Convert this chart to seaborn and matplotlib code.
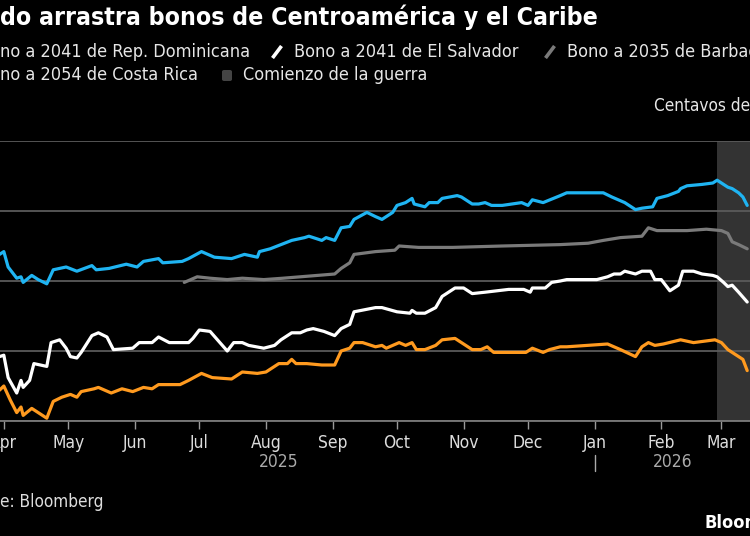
import pandas as pd
import matplotlib
matplotlib.use("Agg")
import matplotlib.pyplot as plt
import matplotlib.dates as mdates
import matplotlib.transforms as mtransforms
from matplotlib import font_manager
from matplotlib.lines import Line2D
from matplotlib.patches import FancyBboxPatch
import seaborn as sns

# --- data (cents on the dollar) ---
dom_dates = ["2025-03-30", "2025-04-01", "2025-04-03", "2025-04-07", "2025-04-09", "2025-04-10",
             "2025-04-14", "2025-04-17", "2025-04-21", "2025-04-24", "2025-04-30", "2025-05-05",
             "2025-05-12", "2025-05-14", "2025-05-20", "2025-05-28", "2025-06-02", "2025-06-05",
             "2025-06-12", "2025-06-14", "2025-06-23", "2025-06-26", "2025-07-02", "2025-07-08",
             "2025-07-16", "2025-07-22", "2025-07-28", "2025-07-29", "2025-08-03", "2025-08-13",
             "2025-08-19", "2025-08-21", "2025-08-27", "2025-08-29", "2025-09-02", "2025-09-05",
             "2025-09-09", "2025-09-11", "2025-09-17", "2025-09-21", "2025-09-24", "2025-09-29",
             "2025-10-01", "2025-10-05", "2025-10-08", "2025-10-09", "2025-10-14", "2025-10-16",
             "2025-10-20", "2025-10-22", "2025-10-29", "2025-10-31", "2025-11-05", "2025-11-08",
             "2025-11-11", "2025-11-14", "2025-11-19", "2025-11-28", "2025-12-01", "2025-12-03",
             "2025-12-08", "2025-12-16", "2025-12-19", "2026-01-05", "2026-01-09", "2026-01-15",
             "2026-01-20", "2026-01-23", "2026-01-28", "2026-01-30", "2026-02-04", "2026-02-09",
             "2026-02-10", "2026-02-13", "2026-02-20", "2026-02-25", "2026-02-27", "2026-03-01",
             "2026-03-04", "2026-03-06", "2026-03-09", "2026-03-11", "2026-03-13"]
dom_vals = [91.9, 92.1, 91.0, 90.2, 90.3, 89.9, 90.4, 90.1, 89.8, 90.8, 91.0, 90.7,
            91.1, 90.8, 90.9, 91.2, 91.0, 91.4, 91.6, 91.3, 91.4, 91.6, 92.1, 91.7,
            91.6, 91.9, 91.7, 92.1, 92.3, 92.9, 93.1, 93.2, 92.9, 93.1, 92.9, 93.8,
            93.9, 94.4, 94.9, 94.6, 94.4, 94.9, 95.4, 95.6, 95.9, 95.5, 95.3, 95.6,
            95.6, 95.9, 96.1, 96.0, 95.5, 95.5, 95.6, 95.4, 95.4, 95.6, 95.4, 95.8,
            95.6, 96.1, 96.3, 96.3, 96.0, 95.6, 95.1, 95.2, 95.3, 95.9, 96.1, 96.4,
            96.6, 96.8, 96.9, 97.0, 97.2, 97.0, 96.7, 96.6, 96.3, 96.0, 95.4]

slv_dates = ["2025-03-30", "2025-04-01", "2025-04-03", "2025-04-07", "2025-04-09", "2025-04-10",
             "2025-04-13", "2025-04-15", "2025-04-21", "2025-04-23", "2025-04-27", "2025-04-30",
             "2025-05-02", "2025-05-05", "2025-05-07", "2025-05-12", "2025-05-15", "2025-05-19",
             "2025-05-22", "2025-05-31", "2025-06-03", "2025-06-09", "2025-06-12", "2025-06-17",
             "2025-06-26", "2025-06-28", "2025-07-01", "2025-07-06", "2025-07-14", "2025-07-17",
             "2025-07-21", "2025-07-24", "2025-07-31", "2025-08-05", "2025-08-08", "2025-08-13",
             "2025-08-17", "2025-08-20", "2025-08-23", "2025-08-28", "2025-09-02", "2025-09-05",
             "2025-09-09", "2025-09-11", "2025-09-21", "2025-09-24", "2025-10-01", "2025-10-07",
             "2025-10-08", "2025-10-10", "2025-10-14", "2025-10-19", "2025-10-22", "2025-10-28",
             "2025-11-01", "2025-11-05", "2025-11-11", "2025-11-22", "2025-11-29", "2025-12-02",
             "2025-12-03", "2025-12-09", "2025-12-12", "2025-12-16", "2025-12-19", "2026-01-02",
             "2026-01-07", "2026-01-10", "2026-01-13", "2026-01-15", "2026-01-20", "2026-01-23",
             "2026-01-27", "2026-01-29", "2026-02-01", "2026-02-05", "2026-02-09", "2026-02-11",
             "2026-02-16", "2026-02-20", "2026-02-25", "2026-02-27", "2026-03-02", "2026-03-04",
             "2026-03-06", "2026-03-09", "2026-03-13"]
slv_vals = [84.6, 84.7, 83.1, 82.0, 82.9, 82.4, 82.9, 84.1, 83.9, 85.6, 85.8, 85.2,
            84.6, 84.5, 84.9, 86.1, 86.3, 86.0, 85.1, 85.2, 85.6, 85.6, 86.0, 85.6,
            85.6, 85.9, 86.5, 86.4, 85.0, 85.6, 85.6, 85.4, 85.2, 85.4, 85.8, 86.3,
            86.3, 86.5, 86.6, 86.4, 86.1, 86.6, 86.9, 87.8, 88.1, 88.1, 87.8, 87.7,
            87.9, 87.7, 87.7, 88.1, 88.9, 89.5, 89.5, 89.1, 89.2, 89.4, 89.4, 89.2,
            89.5, 89.5, 89.9, 90.0, 90.1, 90.1, 90.3, 90.5, 90.5, 90.7, 90.5, 90.7,
            90.7, 90.1, 90.1, 89.3, 89.7, 90.7, 90.7, 90.5, 90.4, 90.3, 89.9, 89.6,
            89.7, 89.2, 88.5]

brb_dates = ["2025-06-24", "2025-06-30", "2025-07-06", "2025-07-14", "2025-07-21", "2025-07-31",
             "2025-08-09", "2025-08-17", "2025-08-25", "2025-09-02", "2025-09-05", "2025-09-09",
             "2025-09-11", "2025-09-16", "2025-09-21", "2025-09-30", "2025-10-02", "2025-10-11",
             "2025-10-27", "2025-11-19", "2025-12-16", "2025-12-29", "2026-01-05", "2026-01-13",
             "2026-01-23", "2026-01-26", "2026-01-30", "2026-02-13", "2026-02-22", "2026-03-01",
             "2026-03-04", "2026-03-06", "2026-03-09", "2026-03-13"]
brb_vals = [89.9, 90.3, 90.2, 90.1, 90.2, 90.1, 90.2, 90.3, 90.4, 90.5, 90.9, 91.3,
            91.9, 92.0, 92.1, 92.2, 92.5, 92.4, 92.4, 92.5, 92.6, 92.7, 92.9, 93.1,
            93.2, 93.8, 93.6, 93.6, 93.7, 93.6, 93.4, 92.8, 92.6, 92.3]

cri_dates = ["2025-03-30", "2025-04-01", "2025-04-04", "2025-04-07", "2025-04-09", "2025-04-10",
             "2025-04-14", "2025-04-17", "2025-04-21", "2025-04-24", "2025-04-28", "2025-05-02",
             "2025-05-05", "2025-05-07", "2025-05-13", "2025-05-15", "2025-05-21", "2025-05-26",
             "2025-05-31", "2025-06-05", "2025-06-09", "2025-06-12", "2025-06-22", "2025-06-26",
             "2025-07-02", "2025-07-07", "2025-07-16", "2025-07-21", "2025-07-28", "2025-08-01",
             "2025-08-07", "2025-08-11", "2025-08-13", "2025-08-15", "2025-08-20", "2025-08-27",
             "2025-09-02", "2025-09-05", "2025-09-09", "2025-09-11", "2025-09-15", "2025-09-21",
             "2025-09-24", "2025-09-26", "2025-10-02", "2025-10-05", "2025-10-08", "2025-10-10",
             "2025-10-14", "2025-10-19", "2025-10-22", "2025-10-28", "2025-10-31", "2025-11-05",
             "2025-11-09", "2025-11-12", "2025-11-15", "2025-11-19", "2025-11-30", "2025-12-03",
             "2025-12-08", "2025-12-11", "2025-12-16", "2025-12-19", "2026-01-07", "2026-01-13",
             "2026-01-20", "2026-01-23", "2026-01-26", "2026-01-29", "2026-02-02", "2026-02-10",
             "2026-02-16", "2026-02-26", "2026-03-01", "2026-03-04", "2026-03-06", "2026-03-09",
             "2026-03-11", "2026-03-13"]
cri_vals = [82.2, 82.5, 81.5, 80.6, 81.0, 80.4, 80.9, 80.6, 80.2, 81.4, 81.7, 81.9,
            81.7, 82.1, 82.3, 82.4, 82.0, 82.3, 82.1, 82.4, 82.3, 82.6, 82.6, 82.9,
            83.4, 83.1, 83.0, 83.5, 83.4, 83.5, 84.1, 84.1, 84.4, 84.1, 84.1, 84.0,
            84.0, 85.0, 85.2, 85.6, 85.6, 85.3, 85.4, 85.2, 85.6, 85.4, 85.6, 85.1,
            85.1, 85.4, 85.8, 85.9, 85.6, 85.1, 85.1, 85.3, 84.9, 84.9, 84.9, 85.2,
            84.9, 85.1, 85.3, 85.3, 85.5, 85.1, 84.6, 85.3, 85.6, 85.4, 85.5, 85.8,
            85.6, 85.8, 85.6, 85.1, 84.9, 84.6, 84.4, 83.6]

war_start = "2026-02-27"

series = {
    "Bono a 2041 de Rep. Dominicana": (dom_dates, dom_vals),
    "Bono a 2041 de El Salvador": (slv_dates, slv_vals),
    "Bono a 2035 de Barbados": (brb_dates, brb_vals),
    "Bono a 2054 de Costa Rica": (cri_dates, cri_vals),
}
colors = {
    "Bono a 2041 de Rep. Dominicana": "#1fb4f2",
    "Bono a 2041 de El Salvador": "#ffffff",
    "Bono a 2035 de Barbados": "#7a7a7a",
    "Bono a 2054 de Costa Rica": "#ff9a1f",
}

df = pd.concat(
    [pd.DataFrame({"fecha": pd.to_datetime(d), "precio": v, "bono": k}) for k, (d, v) in series.items()],
    ignore_index=True,
)

# --- style ---
sns.set_theme(style="dark")
installed = {f.name for f in font_manager.fontManager.ttflist}
fams = [f for f in ["Liberation Sans Narrow", "DejaVu Sans"] if f in installed]
plt.rcParams["font.family"] = fams
plt.rcParams["font.stretch"] = "condensed"
plt.rcParams["figure.facecolor"] = "black"
plt.rcParams["axes.facecolor"] = "black"

W, H = 750, 536
fig = plt.figure(figsize=(W / 100, H / 100), dpi=100)

# axes spans past the canvas on both sides, like the cropped original
x0_px, x1_px = -37, 751.5
top_px, bot_px = 141, 421
ax = fig.add_axes([x0_px / W, 1 - bot_px / H, (x1_px - x0_px) / W, (bot_px - top_px) / H])

ax.axvspan(pd.Timestamp(war_start), pd.Timestamp("2026-03-20"), color="#333333", lw=0, zorder=0)

sns.lineplot(data=df, x="fecha", y="precio", hue="bono", palette=colors,
             estimator=None, lw=2.3, legend=False, ax=ax, zorder=3)

ax.set_xlim(pd.Timestamp("2025-03-13"), pd.Timestamp("2026-03-15"))
ax.set_ylim(80, 100)
ax.set_yticks([80, 85, 90, 95, 100])
ax.set_axisbelow(True)
ax.yaxis.grid(True, color="#5a5a5a", lw=1.3)
ax.xaxis.grid(False)
for s in ["top", "left", "right"]:
    ax.spines[s].set_visible(False)
ax.spines["bottom"].set_color("#7a7a7a")
ax.spines["bottom"].set_linewidth(1.3)
ax.set_xlabel("")
ax.set_ylabel("")

ax.xaxis.set_major_locator(mdates.MonthLocator())
ax.xaxis.set_major_formatter(mdates.DateFormatter("%b"))
ax.tick_params(axis="x", length=6, width=1, color="#9a9a9a", labelcolor="#dddddd",
               labelsize=12.5, pad=3, bottom=True)
# the value labels sit right of the plot, outside the cropped canvas
ax.tick_params(axis="y", length=0, left=False, labelleft=False, right=False, labelright=False)

# year labels centred on each year's part of the axis
trans = mtransforms.blended_transform_factory(ax.transData, ax.transAxes)
lo, hi = ax.get_xlim()
jan1 = mdates.date2num(pd.Timestamp("2026-01-01"))
ax.text((lo + jan1) / 2, -0.146, "2025", transform=trans, ha="center", va="center",
        color="#aaaaaa", fontsize=12.5)
ax.text((jan1 + hi) / 2, -0.146, "2026", transform=trans, ha="center", va="center",
        color="#aaaaaa", fontsize=12.5)
ax.plot([jan1, jan1], [-0.12, -0.18], transform=trans, color="#aaaaaa", lw=1, clip_on=False)


def px(x, y):
    return x / W, 1 - y / H


txt = "#e6e6e6"
lg = 13
fig.text(*px(0, 17), "do arrastra bonos de Centroamérica y el Caribe", color="white",
         fontsize=17.8, fontweight="bold", va="center", ha="left")

fig.text(*px(0, 52), "no a 2041 de Rep. Dominicana", color=txt, fontsize=lg, va="center")
fig.add_artist(Line2D([277 / W - 0.006, 277 / W + 0.006], [1 - 58 / H, 1 - 46 / H],
                      color=colors["Bono a 2041 de El Salvador"], lw=2.6, solid_capstyle="butt"))
fig.text(*px(294, 52), "Bono a 2041 de El Salvador", color=txt, fontsize=lg, va="center")
fig.add_artist(Line2D([550 / W - 0.006, 550 / W + 0.006], [1 - 58 / H, 1 - 46 / H],
                      color=colors["Bono a 2035 de Barbados"], lw=2.6, solid_capstyle="butt"))
fig.text(*px(567, 52), "Bono a 2035 de Barbados", color=txt, fontsize=lg, va="center")

fig.text(*px(0, 75), "no a 2054 de Costa Rica", color=txt, fontsize=lg, va="center")
fig.add_artist(FancyBboxPatch((222 / W, 1 - 81 / H), 10 / W, 11 / H,
                              boxstyle="round,pad=0,rounding_size=0.003",
                              transform=fig.transFigure, color="#444444", lw=0))
fig.text(*px(243, 75), "Comienzo de la guerra", color=txt, fontsize=lg, va="center")

fig.text(*px(654, 106), "Centavos de dólar", color=txt, fontsize=12.3, va="center")
fig.text(*px(0, 502), "e: Bloomberg", color="#dddddd", fontsize=12.3, va="center")
fig.text(*px(705, 523), "Bloomberg", color="white", fontsize=13, fontweight="bold", va="center")

fig.savefig("out.png", dpi=100, facecolor="black")
